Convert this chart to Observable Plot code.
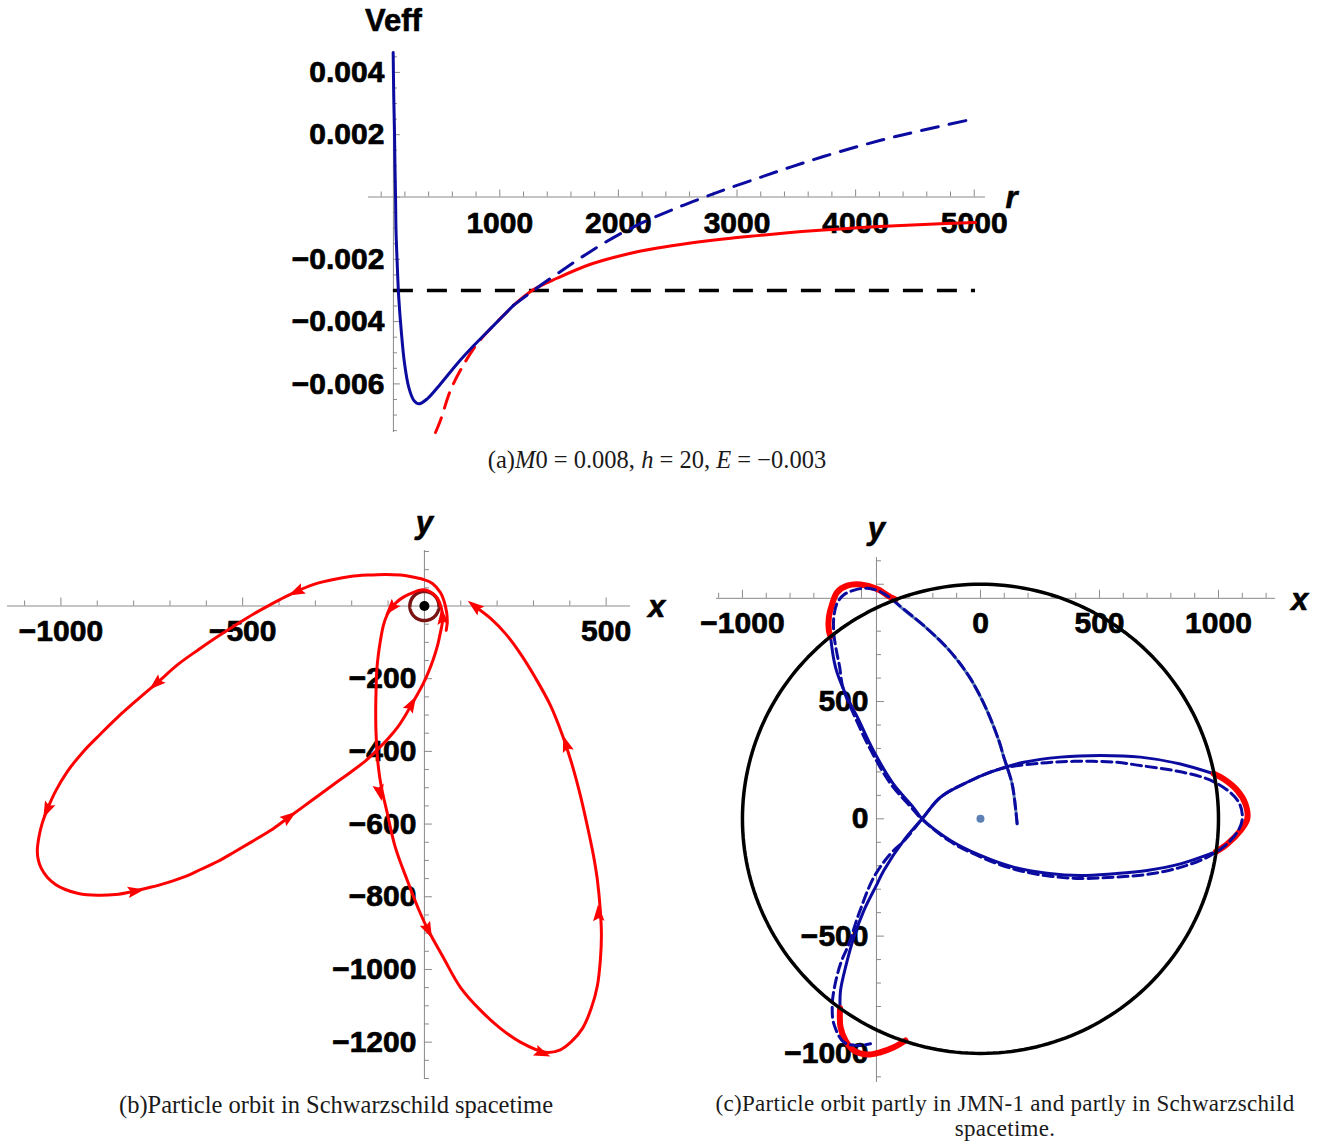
<!DOCTYPE html>
<html>
<head>
<meta charset="utf-8">
<script src="https://cdn.jsdelivr.net/npm/d3@7"></script>
<script src="https://cdn.jsdelivr.net/npm/@observablehq/plot@0.6"></script>
<style>
  html, body { margin: 0; padding: 0; background: #fff; }
  #page { position: relative; width: 1325px; height: 1142px; overflow: hidden; background: #fff; }
  .panel { position: absolute; }
  .cap { position: absolute; font-family: "Liberation Serif", "Times New Roman", serif; font-size: 24.5px;
         color: #1a1a1a; text-align: center; white-space: nowrap; line-height: 26px; height: 26px; }
  .cap.small { font-size: 23px; letter-spacing: 0.3px; }
</style>
</head>
<body>
<div id="page">
  <div class="panel" id="pa" style="left:270px; top:0px;"></div>
  <div class="panel" id="pb" style="left:0px; top:500px;"></div>
  <div class="panel" id="pc" style="left:690px; top:500px;"></div>
  <div class="cap" style="left:357px; top:447px; width:600px;">(a)<i>M</i>0 = 0.008, <i>h</i> = 20, <i>E</i> = −0.003</div>
  <div class="cap" style="left:36px; top:1092px; width:600px;">(b)Particle orbit in Schwarzschild spacetime</div>
  <div class="cap small" style="left:655px; top:1091px; width:700px;">(c)Particle orbit partly in JMN-1 and partly in Schwarzschild</div>
  <div class="cap small" style="left:655px; top:1116px; width:700px;">spacetime.</div>
</div>
<script>
// ---------------- shared styling ----------------
const FONT = "'Liberation Sans', Arial, Helvetica, sans-serif";
const BLUE = "#0b0ba0";
const RED = "#ff0000";
const LIGHTBLUE = "#5e81b5";
const AXIS = "#8a8a8a";
const TICKFONT = {fontSize: 30, fontWeight: "bold", fontFamily: FONT, fill: "black", stroke: "black", strokeWidth: 0.7};
const LABELFONT = {fontSize: 31, fontWeight: "bold", fontFamily: FONT, fill: "black", stroke: "black", strokeWidth: 0.6};
const fmtV = d3.format(".3f");
const fmtI = d3.format("d");
const pts = arr => arr.map(([x, y]) => ({x, y}));

// ---------------- (a) effective potential Veff(r) ----------------
const M0 = 0.008, h = 20, E = -0.003;
// JMN-1 potential, r < R_b (solid) and continued beyond R_b (dashed)
const jmnInside = [[101,0.00464],[106,0.0032],[112,0.00213],[116,0.00101],[121,0],[125,-0.00108],
  [135,-0.00213],[148,-0.00323],[169,-0.00429],[197,-0.00535],[233,-0.00612],[275,-0.00653],
  [317,-0.00664],[388,-0.00648],[500,-0.0060],[641,-0.00535],[781,-0.00477],[949,-0.00412],[1115,-0.00348]];
const jmnOutside = [[1115,-0.00348],[1284,-0.0030],[1486,-0.00246],[1739,-0.00181],[1992,-0.00123],
  [2245,-0.00075],[2498,-0.00034],[2717,-0.00002],[2886,0.00022],[3173,0.0006],[3451,0.00096],
  [3729,0.0013],[4016,0.00162],[4294,0.0019],[4573,0.00215],[5011,0.00252]];
// Schwarzschild potential, continued inside R_b (dashed) and outside R_b (solid)
const schwInside = [[458,-0.00756],[500,-0.00717],[584,-0.00621],[683,-0.00546],[809,-0.00471],
  [949,-0.00412],[1115,-0.00348]];
const schwOutside = [[1115,-0.00348],[1285,-0.00297],[1487,-0.0026],[1765,-0.00216],[2043,-0.00186],
  [2330,-0.00164],[2608,-0.00148],[2886,-0.00135],[3173,-0.00124],[3451,-0.00114],[3729,-0.00106],
  [4016,-0.00099],[4294,-0.00093],[4573,-0.00088],[5011,-0.00082]];
const aXRange = [-107, 5095], aYRange = [-0.00756, 0.004639], aAxisR = 103, aEnergyEnd = 5011;
const aXTicks = d3.range(0, 5001, 200);
const aXLabels = [1000, 2000, 3000, 4000, 5000];
const aYTicks = d3.range(-15, 10).map(k => k * 0.0005);
const aYLabels = [0.004, 0.002, -0.002, -0.004, -0.006];

const figA = Plot.plot({
  width: 780, height: 445,
  marginLeft: 98, marginRight: 65, marginTop: 52, marginBottom: 13,
  x: {domain: aXRange, axis: null},
  y: {domain: aYRange, axis: null},
  style: {background: "transparent", overflow: "visible"},
  marks: [
    Plot.ruleY([0], {x1: aXRange[0], x2: aXRange[1], stroke: AXIS, strokeWidth: 1}),
    Plot.ruleX([aAxisR], {y1: aYRange[0], y2: aYRange[1], stroke: AXIS, strokeWidth: 1}),
    Plot.ruleX(aXTicks.filter(d => d % 1000 !== 0 || d === 0), {x: d => d, y1: 0, y2: 0, insetTop: -5, stroke: AXIS}),
    Plot.ruleX(aXTicks.filter(d => d % 1000 === 0 && d !== 0), {x: d => d, y1: 0, y2: 0, insetTop: -7, stroke: AXIS}),
    Plot.ruleY(aYTicks.filter((d, i) => (i - 15) % 4 !== 0), {y: d => d, x1: aAxisR, x2: aAxisR, insetRight: -4, stroke: AXIS}),
    Plot.ruleY(aYTicks.filter((d, i) => (i - 15) % 4 === 0), {y: d => d, x1: aAxisR, x2: aAxisR, insetRight: -7, stroke: AXIS}),
    Plot.text(aXLabels, {x: d => d, y: 0, text: d => fmtI(d), dy: 26, ...TICKFONT}),
    Plot.text(aYLabels, {x: aAxisR, y: d => d, text: d => fmtV(d), dx: -9, textAnchor: "end", ...TICKFONT}),
    Plot.text(["Veff"], {x: aAxisR, y: aYRange[1], text: d => d, dy: -31, ...LABELFONT}),
    Plot.text(["r"], {x: aXRange[1], y: 0, text: d => d, dx: 26, dy: 1, fontStyle: "italic", ...LABELFONT}),
    Plot.ruleY([E], {x1: aAxisR, x2: aEnergyEnd, stroke: "black", strokeWidth: 3.5, strokeDasharray: "20,14"}),
    Plot.line(pts(schwInside), {x: "x", y: "y", stroke: RED, strokeWidth: 3, strokeDasharray: "16,10", curve: "catmull-rom"}),
    Plot.line(pts(schwOutside), {x: "x", y: "y", stroke: RED, strokeWidth: 3, curve: "catmull-rom"}),
    Plot.line(pts(jmnInside), {x: "x", y: "y", stroke: BLUE, strokeWidth: 3, curve: "catmull-rom"}),
    Plot.line(pts(jmnOutside), {x: "x", y: "y", stroke: BLUE, strokeWidth: 3, strokeDasharray: "17,11", curve: "catmull-rom"})
  ]
});
document.getElementById("pa").append(figA);

// ---------------- arrowheads along an orbit ----------------
const arrowHead = {
  draw(ctx, size) {
    const r = Math.sqrt(size / Math.PI);
    ctx.moveTo(0, -1.15 * r);
    ctx.lineTo(0.6 * r, 0.6 * r);
    ctx.lineTo(0, 0.3 * r);
    ctx.lineTo(-0.6 * r, 0.6 * r);
    ctx.closePath();
  }
};
// heading (degrees clockwise from up, in screen space) of the orbit segment nearest each point
function headings(path, where, sx, sy) {
  return where.map(([px, py]) => {
    let best = 0, bd = Infinity;
    for (let i = 0; i < path.length - 1; i++) {
      const [x1, y1] = path[i], [x2, y2] = path[i + 1];
      const dx = x2 - x1, dy = y2 - y1;
      const t = Math.max(0, Math.min(1, ((px - x1) * dx + (py - y1) * dy) / (dx * dx + dy * dy || 1)));
      const ex = x1 + t * dx - px, ey = y1 + t * dy - py;
      const d = ex * ex + ey * ey;
      if (d < bd) { bd = d; best = i; }
    }
    const [x1, y1] = path[best], [x2, y2] = path[best + 1];
    return {x: px, y: py, angle: Math.atan2((x2 - x1) * sx, (y2 - y1) * sy) * 180 / Math.PI};
  });
}
const ring = (R, n = 240) => d3.range(n + 1).map(i => {
  const t = 2 * Math.PI * i / n;
  return {x: R * Math.cos(t), y: R * Math.sin(t)};
});

// ---------------- (b) orbit in Schwarzschild spacetime ----------------
const orbitB = [[60,-67],[63,-40],[58,-1],[44,37],[22,62],[-3,73],[-39,81],[-66,85],[-107,87],[-157,85],
  [-204,81],[-250,73],[-300,61],[-341,45],[-383,25],[-425,3],[-470,-22],[-525,-56],[-575,-88],[-620,-119],
  [-677,-160],[-734,-210],[-790,-258],[-845,-307],[-891,-352],[-938,-400],[-982,-455],[-1015,-510],
  [-1036,-556],[-1051,-596],[-1060,-633],[-1065,-673],[-1062,-700],[-1054,-722],[-1037,-747],[-1015,-766],
  [-988,-780],[-952,-791],[-900,-796],[-850,-794],[-800,-785],[-754,-774],[-707,-761],[-657,-744],
  [-616,-725],[-569,-703],[-525,-678],[-479,-651],[-424,-618],[-377,-584],[-314,-538],[-250,-491],
  [-204,-458],[-162,-426],[-129,-395],[-99,-364],[-74,-334],[-53,-302],[-36,-272],[-19,-243],[-3,-213],
  [11,-182],[25,-145],[36,-109],[44,-73],[50,-40],[47,-7],[36,21],[19,37],[3,44],[-16,43],[-38,34],
  [-60,23],[-77,10],[-89,-4],[-102,-23],[-113,-54],[-121,-95],[-127,-136],[-131,-177],[-133,-232],
  [-134,-287],[-133,-351],[-127,-440],[-119,-495],[-102,-571],[-80,-664],[-47,-755],[-11,-846],[12,-895],
  [52,-967],[99,-1049],[154,-1112],[209,-1162],[264,-1200],[333,-1228],[374,-1221],
  [405,-1198],[435,-1162],[459,-1107],[476,-1044],[484,-975],[487,-906],[484,-838],[476,-755],[465,-686],
  [448,-604],[429,-521],[407,-439],[380,-356],[347,-274],[305,-197],[264,-131],[223,-76],[182,-34],[143,-4]];
const arrowsAtB = [[-347,42],[-734,-210],[-1036,-556],[-800,-785],[-377,-584],[-38,-275],[50,-35],
  [-88,-2],[-124,-507],[8,-887],[319,-1228],[479,-851],[391,-385],[143,-4]];
const innerRingR = 40;
const bXRange = [-1147, 567], bYRange = [-1300, 152.7];
const bXTicks = d3.range(-1100, 501, 100).filter(d => d !== 0);
const bYTicks = d3.range(-1300, 151, 50).filter(d => d !== 0);
const bXLabels = [-1000, -500, 500];
const bYLabels = [-200, -400, -600, -800, -1000, -1200];
const sB = 0.3635;

const figB = Plot.plot({
  width: 690, height: 590,
  marginLeft: 7, marginRight: 60, marginTop: 50, marginBottom: 12,
  x: {domain: bXRange, axis: null},
  y: {domain: bYRange, axis: null},
  style: {background: "transparent", overflow: "visible"},
  marks: [
    Plot.ruleY([0], {x1: bXRange[0], x2: bXRange[1], stroke: AXIS}),
    Plot.ruleX([0], {y1: bYRange[0], y2: bYRange[1], stroke: AXIS}),
    Plot.ruleX(bXTicks.filter(d => d % 500 !== 0), {x: d => d, y1: 0, y2: 0, insetTop: -5, stroke: AXIS}),
    Plot.ruleX(bXTicks.filter(d => d % 500 === 0), {x: d => d, y1: 0, y2: 0, insetTop: -8, stroke: AXIS}),
    Plot.ruleY(bYTicks.filter(d => d % 200 !== 0), {y: d => d, x1: 0, x2: 0, insetRight: -5, stroke: AXIS}),
    Plot.ruleY(bYTicks.filter(d => d % 200 === 0), {y: d => d, x1: 0, x2: 0, insetRight: -8, stroke: AXIS}),
    Plot.text(bXLabels, {x: d => d, y: 0, text: d => fmtI(d), dy: 25, ...TICKFONT}),
    Plot.text(bYLabels, {x: 0, y: d => d, text: d => fmtI(d), dx: -8, textAnchor: "end", ...TICKFONT}),
    Plot.text(["x"], {x: bXRange[1], y: 0, text: d => d, dx: 26, dy: 1, fontStyle: "italic", ...LABELFONT}),
    Plot.text(["y"], {x: 0, y: bYRange[1], text: d => d, dy: -27, fontStyle: "italic", ...LABELFONT}),
    Plot.line(ring(innerRingR), {x: "x", y: "y", stroke: "#7a1414", strokeWidth: 3.5}),
    Plot.dot([{x: 0, y: 0}], {x: "x", y: "y", r: 5, fill: "black"}),
    Plot.line(pts(orbitB), {x: "x", y: "y", stroke: RED, strokeWidth: 3, curve: "catmull-rom"}),
    Plot.dot(headings(orbitB, arrowsAtB, sB, sB), {x: "x", y: "y", rotate: "angle", symbol: arrowHead, r: 9.5, fill: RED})
  ]
});
document.getElementById("pb").append(figB);

// ---------------- (c) orbit partly in JMN-1 and partly in Schwarzschild ----------------
const Rb = 1000;
const cStart = [[154,-21],[147,49],[133,149],[112,220],[98,263],[77,334],[21,476],[-46,604],[-130,717],
  [-231,817],[-349,916],[-357,935]];
const cOut1 = [[-357,935],[-378,945],[-434,980],[-504,999],[-560,994],[-602,966],[-623,916],[-637,859],
  [-637,803],[-630,778]];
const cIn1 = [[-630,778],[-609,646],[-567,533],[-517,433],[-450,291],[-366,149],[-282,49],[-245,0],
  [-126,-92],[0,-156],[139,-206],[280,-232],[420,-242],[559,-234],[700,-220],[840,-192],[990,-140]];
const cOut2 = [[990,-140],[1037,-107],[1092,-50],[1121,0],[1113,64],[1079,121],[1022,170],[980,192]];
const cIn2 = [[980,192],[840,234],[672,263],[504,270],[336,263],[182,241],[42,199],[-56,156],[-168,92],
  [-245,0],[-322,-92],[-406,-220],[-434,-277],[-490,-391],[-532,-505],[-567,-633],[-588,-732],[-590,-808]];
const cOut3 = [[-590,-808],[-588,-888],[-567,-945],[-532,-988],[-476,-1005],[-420,-995],[-364,-974],[-315,-945]];
// JMN-1 orbit continued through the whole region (dashed)
const cJmnFull = [[154,-21],[147,49],[133,149],[112,220],[98,263],[77,334],[21,476],[-46,604],[-130,717],
  [-231,817],[-349,916],[-380,942],[-420,968],[-476,983],[-530,975],[-574,955],[-602,920],[-616,860],
  [-616,790],[-605,715],[-592,650],[-578,560],[-530,440],[-462,295],[-378,150],[-292,50],[-250,2],
  [-128,-96],[0,-162],[139,-214],[280,-243],[420,-254],[559,-249],[700,-237],[840,-207],[960,-160],
  [1030,-112],[1080,-55],[1100,0],[1088,65],[1040,120],[953,170],[812,206],[672,227],[574,241],[392,245],
  [252,237],[84,213],[-56,156],[-168,92],[-245,0],[-322,-95],[-378,-149],[-448,-249],[-511,-405],
  [-553,-533],[-588,-618],[-616,-732],[-623,-803],[-616,-874],[-574,-952],[-518,-966],[-462,-959]];
const cXRange = [-1109, 1239.5], cYRange = [-1124, 1114];
const cAxisX = -437, cAxisY = 940;
const cXTicks = d3.range(-1100, 1201, 100);
const cYTicks = d3.range(-1100, 1101, 100);
const cXLabels = [-1000, 0, 500, 1000];
const cYLabels = [500, 0, -500, -1000];

const figC = Plot.plot({
  width: 635, height: 590,
  marginLeft: 26, marginRight: 50, marginTop: 57, marginBottom: 8,
  x: {domain: cXRange, axis: null},
  y: {domain: cYRange, axis: null},
  style: {background: "transparent", overflow: "visible"},
  marks: [
    Plot.ruleY([cAxisY], {x1: cXRange[0], x2: cXRange[1], stroke: AXIS}),
    Plot.ruleX([cAxisX], {y1: cYRange[0], y2: cYRange[1], stroke: AXIS}),
    Plot.ruleX(cXTicks.filter(d => d % 500 !== 0), {x: d => d, y1: cAxisY, y2: cAxisY, insetTop: -5, stroke: AXIS}),
    Plot.ruleX(cXTicks.filter(d => d % 500 === 0), {x: d => d, y1: cAxisY, y2: cAxisY, insetTop: -8, stroke: AXIS}),
    Plot.ruleY(cYTicks.filter(d => d % 500 !== 0), {y: d => d, x1: cAxisX, x2: cAxisX, insetRight: -5, stroke: AXIS}),
    Plot.ruleY(cYTicks.filter(d => d % 500 === 0), {y: d => d, x1: cAxisX, x2: cAxisX, insetRight: -8, stroke: AXIS}),
    Plot.text(cXLabels, {x: d => d, y: cAxisY, text: d => fmtI(d), dy: 25, ...TICKFONT}),
    Plot.text(cYLabels, {x: cAxisX, y: d => d, text: d => fmtI(d), dx: -8, textAnchor: "end", ...TICKFONT}),
    Plot.text(["x"], {x: cXRange[1], y: cAxisY, text: d => d, dx: 24, dy: 2, fontStyle: "italic", ...LABELFONT}),
    Plot.text(["y"], {x: cAxisX, y: cYRange[1], text: d => d, dy: -28, fontStyle: "italic", ...LABELFONT}),
    Plot.line(pts(cStart), {x: "x", y: "y", stroke: LIGHTBLUE, strokeWidth: 3, curve: "catmull-rom"}),
    Plot.line(pts(cIn1), {x: "x", y: "y", stroke: BLUE, strokeWidth: 3, curve: "catmull-rom"}),
    Plot.line(pts(cIn2), {x: "x", y: "y", stroke: BLUE, strokeWidth: 3, curve: "catmull-rom"}),
    Plot.line(pts(cOut1), {x: "x", y: "y", stroke: RED, strokeWidth: 6, curve: "catmull-rom"}),
    Plot.line(pts(cOut2), {x: "x", y: "y", stroke: RED, strokeWidth: 6, curve: "catmull-rom"}),
    Plot.line(pts(cOut3), {x: "x", y: "y", stroke: RED, strokeWidth: 6, curve: "catmull-rom"}),
    Plot.line(pts(cJmnFull), {x: "x", y: "y", stroke: BLUE, strokeWidth: 3, strokeDasharray: "10,5", curve: "catmull-rom"}),
    Plot.line(ring(Rb), {x: "x", y: "y", stroke: "black", strokeWidth: 3.5}),
    Plot.dot([{x: 0, y: 0}], {x: "x", y: "y", r: 4, fill: LIGHTBLUE})
  ]
});
document.getElementById("pc").append(figC);
</script>
</body>
</html>
